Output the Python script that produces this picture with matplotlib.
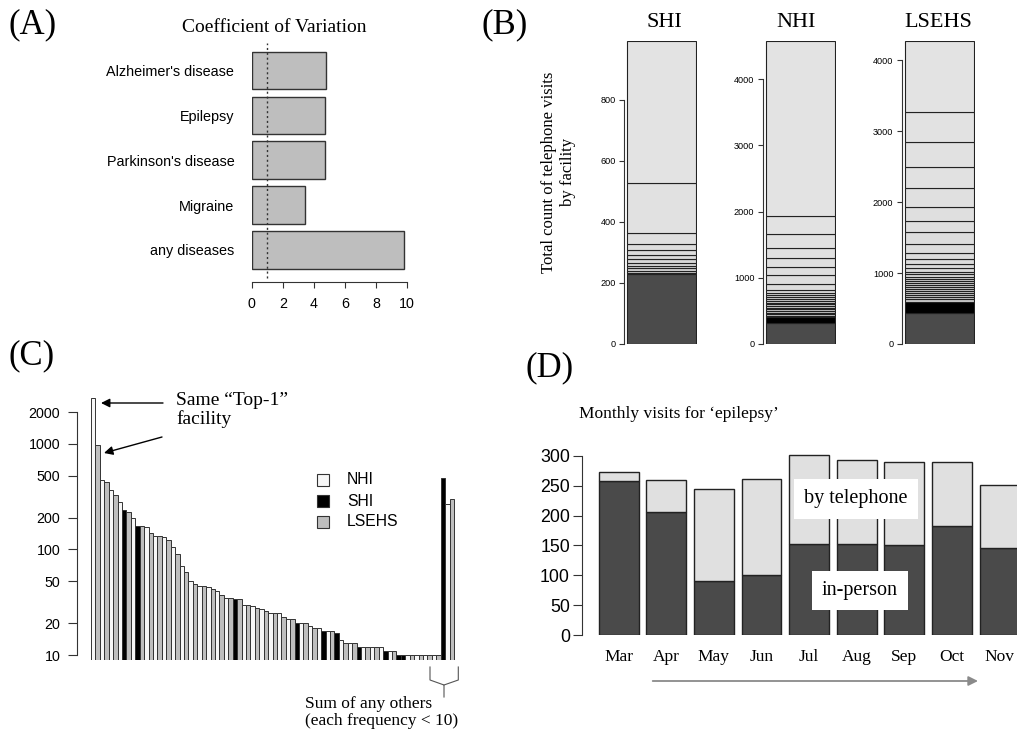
import matplotlib
matplotlib.use('Agg')
import matplotlib.pyplot as plt
from matplotlib.patches import Rectangle
from matplotlib.lines import Line2D
from matplotlib.ticker import NullLocator, FixedLocator, FixedFormatter
import numpy as np

W, H = 1017, 733
SERIF = ['Liberation Serif', 'DejaVu Serif']
SANS = ['Liberation Sans', 'DejaVu Sans']

# ---------------- data ----------------
# Panel A
cv_labels = ["Alzheimer's disease", "Epilepsy", "Parkinson's disease", "Migraine", "any diseases"]
cv_values = [4.78, 4.71, 4.73, 3.43, 9.79]
cv_ticks = [0, 2, 4, 6, 8, 10]
cv_ref = 1

# Panel B (cumulative segment boundaries)
b_titles = ['SHI', 'NHI', 'LSEHS']
shi_bounds = [0, 229, 234, 240, 248, 257, 267, 278, 292, 308, 327, 363, 527, 992]
nhi_bounds = [0, 312, 413, 423, 448, 474, 499, 524, 549, 574, 600, 625, 650, 680, 710,
              741, 776, 811, 912, 1038, 1164, 1295, 1446, 1663, 1935, 4574]
lsehs_bounds = [0, 432, 590, 597, 635, 663, 691, 719, 747, 776, 804, 832, 860, 888, 917,
                949, 982, 1020, 1067, 1128, 1194, 1278, 1410, 1575, 1739, 1927, 2204,
                2500, 2853, 3276, 4268]
shi_ticks = [0, 200, 400, 600, 800]
nhi_ticks = [0, 1000, 2000, 3000, 4000]
lsehs_ticks = [0, 1000, 2000, 3000, 4000]
b_black_segment = [None, 1, 1]

# Panel C
c_values = [2700, 980, 457, 431, 368, 331, 279, 238, 225, 197,
            168, 168, 162, 144, 135, 133, 131, 124, 105, 90,
            69, 61, 50, 47, 45, 45, 44, 42, 40, 37,
            35, 35, 34, 34, 30, 30, 29, 28, 27, 26,
            25, 25, 25, 23, 22, 22, 20, 20, 20, 19,
            18, 18, 17, 17, 17, 16, 14, 13, 13, 13,
            12, 12, 12, 12, 12, 12, 11, 11, 11, 10,
            10, 10, 10, 10, 10, 10, 10, 10, 10,
            470, 270, 300]
c_groups = list("NLNLNLNSLN" "SLNLNLNLNL" "NLNLNLNLNL" "NLSLNLNLNL" "NLNLNLSNLN"
                "LNSNLSNLNL" "SNLNLNSNLS" "SNLNLNLNLS" "NL")
c_legend = ['NHI', 'SHI', 'LSEHS']
c_ticks = [10, 20, 50, 100, 200, 500, 1000, 2000]

# Panel D
months = ['Mar', 'Apr', 'May', 'Jun', 'Jul', 'Aug', 'Sep', 'Oct', 'Nov']
in_person = [258, 206, 91, 100, 153, 153, 151, 183, 146]
telephone = [15, 54, 153, 162, 148, 141, 139, 107, 106]
d_ticks = [0, 50, 100, 150, 200, 250, 300]

# ---------------- figure ----------------
fig = plt.figure(figsize=(W / 100, H / 100), dpi=100)
fig.patch.set_facecolor('white')


def add_ax(x0, y0, x1, y1):
    return fig.add_axes([x0 / W, 1 - y1 / H, (x1 - x0) / W, (y1 - y0) / H])


def fx(x):
    return x / W


def fy(y):
    return 1 - y / H


def ftext(x, y, s, **kw):
    return fig.text(fx(x), fy(y), s, **kw)


# panel letters
for lab, (x, y) in zip(['(A)', '(B)', '(C)', '(D)'],
                       [(33, 25), (505, 25), (32, 356), (550, 368)]):
    ftext(x, y, lab, ha='center', va='center', family=SERIF, fontsize=25)

# ---------------- Panel A ----------------
pxu = 15.56
axA = add_ax(251.7, 43, 251.7 + 10.3 * pxu, 282)
ypos = np.arange(len(cv_labels))[::-1]
axA.barh(ypos, cv_values, height=0.833, color='#bebebe', edgecolor='#333333', lw=1.0, zorder=2)
axA.plot([cv_ref, cv_ref], [-0.62, 4.61], ls=(0, (1.5, 2)), color='#333333', lw=1.0, zorder=3)
axA.set_xlim(0, 10.3)
axA.set_ylim(-0.713, 4.61)
for s in ['top', 'right', 'left']:
    axA.spines[s].set_visible(False)
axA.spines['bottom'].set_bounds(0, 10)
axA.spines['bottom'].set_color('#333333')
axA.set_xticks(cv_ticks)
axA.set_xticklabels([str(t) for t in cv_ticks], family=SANS, fontsize=10.3)
axA.set_yticks(ypos)
axA.set_yticklabels(cv_labels, family=SANS, fontsize=10.4)
axA.tick_params(axis='y', length=0, pad=12.5)
axA.tick_params(axis='x', length=4, pad=7, color='#333333')
axA.set_facecolor('none')
ftext(274, 28, 'Coefficient of Variation', ha='center', va='center', family=SERIF, fontsize=14)

# ---------------- Panel B ----------------
b_bounds = [shi_bounds, nhi_bounds, lsehs_bounds]
b_ticks = [shi_ticks, nhi_ticks, lsehs_ticks]
b_axis_x = [624, 762.7, 901.7]
b_bar_l = [626.7, 766, 905]
b_bar_r = [695.7, 835, 974]
b_title_x = [664, 796, 938]
for i in range(3):
    bw = b_bar_r[i] - b_bar_l[i]
    ax = add_ax(b_axis_x[i], 41.3, b_bar_r[i] + 1, 344)
    bounds = b_bounds[i]
    nseg = len(bounds) - 1
    for j in range(nseg):
        if j == 0:
            col = '#4b4b4b'
        elif b_black_segment[i] is not None and j == b_black_segment[i]:
            col = '#000000'
        else:
            g = 0.80 + 0.09 * (j / (nseg - 1))
            col = (g, g, g)
        ax.bar(0, bounds[j + 1] - bounds[j], bottom=bounds[j], width=1, align='edge',
               color=col, edgecolor='#222222', lw=0.8)
    ax.set_xlim(-(b_bar_l[i] - b_axis_x[i]) / bw, 1 + 1 / bw)
    ax.set_ylim(0, bounds[-1])
    for s in ['top', 'right', 'bottom']:
        ax.spines[s].set_visible(False)
    ax.spines['left'].set_bounds(b_ticks[i][0], b_ticks[i][-1])
    ax.spines['left'].set_color('#333333')
    ax.set_xticks([])
    ax.set_yticks(b_ticks[i])
    ax.set_yticklabels([str(t) for t in b_ticks[i]], family=SANS, fontsize=6.6)
    ax.tick_params(axis='y', length=3.5, pad=2.5, color='#333333')
    ax.set_facecolor('none')
    ftext(b_title_x[i], 22.5, b_titles[i], ha='center', va='center', family=SERIF, fontsize=16)

ftext(558.5, 172, 'Total count of telephone visits\nby facility', rotation=90,
      ha='center', va='center', multialignment='center', family=SERIF, fontsize=12)

# ---------------- Panel C ----------------
cpx = 4.427
axC = add_ax(77, 390, 460, 660)
axC.set_yscale('log')
ymin_c = 8.97
gcol = {'N': '#f7f7f7', 'S': '#000000', 'L': '#bebebe'}
xs = np.arange(len(c_values))
axC.bar(xs, np.array(c_values) - ymin_c, bottom=ymin_c, width=1, align='edge',
        color=[gcol[g] for g in c_groups], edgecolor='#333333', lw=0.7)
axC.set_xlim((77 - 91) / cpx, (460 - 91) / cpx)
axC.set_ylim(ymin_c, 3232)
for s in ['top', 'right', 'bottom']:
    axC.spines[s].set_visible(False)
axC.spines['left'].set_bounds(c_ticks[0], c_ticks[-1])
axC.spines['left'].set_color('#333333')
axC.set_xticks([])
axC.yaxis.set_major_locator(FixedLocator(c_ticks))
axC.yaxis.set_major_formatter(FixedFormatter([str(t) for t in c_ticks]))
axC.yaxis.set_minor_locator(NullLocator())
for lbl in axC.get_yticklabels():
    lbl.set_family(SANS)
    lbl.set_fontsize(10.3)
axC.tick_params(axis='y', length=6.5, pad=5.5, color='#333333')
axC.set_facecolor('none')

# annotation arrows
for (x0, y0, x1, y1) in [(163, 403, 101, 403), (162, 437, 104, 453)]:
    axC.annotate('', xy=(x1, H - y1), xytext=(x0, H - y0), xycoords='figure pixels',
                 textcoords='figure pixels', annotation_clip=False,
                 arrowprops=dict(arrowstyle='-|>', color='black', lw=1.0,
                                 mutation_scale=13, shrinkA=0, shrinkB=0))
ftext(176, 392, 'Same \u201cTop-1\u201d\nfacility', ha='left', va='top',
      family=SERIF, fontsize=14, linespacing=1.05)

# legend
leg_cols = ['#f7f7f7', '#000000', '#bebebe']
for k, (lab, col) in enumerate(zip(c_legend, leg_cols)):
    yc = 480 + 21 * k
    fig.add_artist(Rectangle((fx(317), fy(yc + 6)), 12 / W, 12 / H, transform=fig.transFigure,
                             facecolor=col, edgecolor='#333333', lw=0.8))
    ftext(347, yc, lab, ha='left', va='center', family=SANS, fontsize=11.3)

# brace
brace_pts = [[(430, 667), (430, 680), (444, 685), (444, 697)],
             [(458.3, 667), (458.3, 680), (444, 685)]]
for pts in brace_pts:
    fig.add_artist(Line2D([fx(p[0]) for p in pts], [fy(p[1]) for p in pts],
                          transform=fig.transFigure, color='#555555', lw=0.8))
ftext(305, 696, 'Sum of any others\n(each frequency < 10)', ha='left', va='top',
      family=SERIF, fontsize=12.5, linespacing=1.1)

# ---------------- Panel D ----------------
dpx = 47.6
axD = add_ax(581.7, 635 - 318 * 0.5967, 1080, 635)
xd = np.arange(len(months))
axD.bar(xd, in_person, width=0.84, color='#4a4a4a', edgecolor='#222222', lw=1.0)
axD.bar(xd, telephone, bottom=in_person, width=0.84, color='#e0e0e0',
        edgecolor='#222222', lw=1.0)
axD.set_xlim((581.7 - 618.7) / dpx, (1080 - 618.7) / dpx)
axD.set_ylim(0, 318)
for s in ['top', 'right', 'bottom']:
    axD.spines[s].set_visible(False)
axD.spines['left'].set_bounds(0, 300)
axD.spines['left'].set_color('#333333')
axD.set_yticks(d_ticks)
axD.set_yticklabels([str(t) for t in d_ticks], family=SANS, fontsize=12.8)
axD.tick_params(axis='y', length=6.5, pad=2, color='#333333')
axD.set_xticks(xd)
axD.set_xticklabels(months, family=SERIF, fontsize=12.5)
axD.tick_params(axis='x', length=0, pad=10)
axD.set_facecolor('none')

ftext(579, 414, 'Monthly visits for \u2018epilepsy\u2019', ha='left', va='center',
      family=SERIF, fontsize=12.5)
ftext(856, 499, 'by telephone', ha='center', va='center', family=SERIF, fontsize=14.5,
      bbox=dict(boxstyle='square,pad=0.5', facecolor='white', edgecolor='none'))
ftext(860, 590.5, 'in-person', ha='center', va='center', family=SERIF, fontsize=14.5,
      bbox=dict(boxstyle='square,pad=0.5', facecolor='white', edgecolor='none'))
axD.annotate('', xy=(978, H - 681), xytext=(652.7, H - 681), xycoords='figure pixels',
             textcoords='figure pixels', annotation_clip=False,
             arrowprops=dict(arrowstyle='-|>', color='#8a8a8a', lw=1.3,
                             mutation_scale=14, shrinkA=0, shrinkB=0))

fig.savefig('out.png', dpi=100)
